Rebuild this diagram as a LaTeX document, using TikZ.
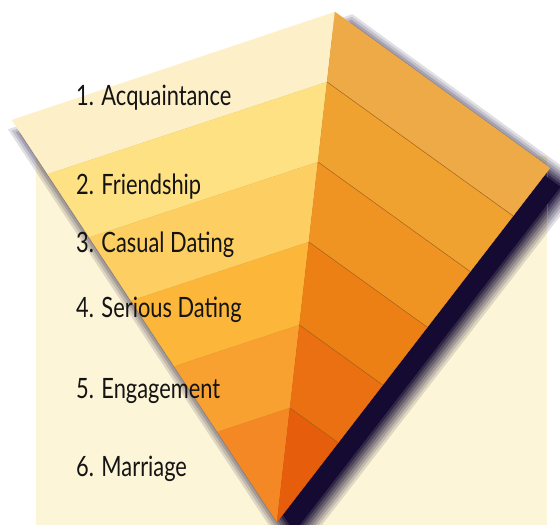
\documentclass[tikz,border=0pt]{standalone}
\usepackage{fontspec}
\setmainfont{Lato}[FakeStretch=0.78]
\usetikzlibrary{calc}
\definecolor{bgcream}{HTML}{FDF5D7}
\definecolor{navy}{HTML}{140A32}
\definecolor{edgeline}{HTML}{A0621A}
\definecolor{lc1}{HTML}{FDEFC7}
\definecolor{lc2}{HTML}{FEE182}
\definecolor{lc3}{HTML}{FDCE62}
\definecolor{lc4}{HTML}{FCB63A}
\definecolor{lc5}{HTML}{F8A130}
\definecolor{lc6}{HTML}{F38824}
\definecolor{rc1}{HTML}{EDAA46}
\definecolor{rc2}{HTML}{F0A230}
\definecolor{rc3}{HTML}{EF9423}
\definecolor{rc4}{HTML}{ED8015}
\definecolor{rc5}{HTML}{EA7012}
\definecolor{rc6}{HTML}{E65E0C}
\newcommand\shadowsteps[1]{%
  \fill[navy!13!#1] (7.9,129.3) -- (352.4,14.2) -- (585.5,183.3) -- (293.2,562.2) -- cycle;
  \fill[navy!25!#1] (11.75,130.7) -- (352.0,16.9) -- (581.9,183.8) -- (293.3,557.9) -- cycle;
  \fill[navy!38!#1] (15.6,132.0) -- (351.5,19.7) -- (578.4,184.3) -- (293.5,553.6) -- cycle;
  \fill[navy!50!#1] (19.5,133.35) -- (351.1,22.5) -- (574.8,184.9) -- (293.7,549.3) -- cycle;
  \fill[navy!63!#1] (23.4,134.7) -- (350.7,25.3) -- (571.3,185.4) -- (293.8,545.0) -- cycle;
  \fill[navy!75!#1] (27.25,136.0) -- (350.3,28.0) -- (567.7,185.9) -- (294.0,540.7) -- cycle;
  \fill[navy!88!#1] (31.1,137.4) -- (349.8,30.8) -- (564.2,186.4) -- (294.1,536.4) -- cycle;
}
\begin{document}
\begin{tikzpicture}[x=1pt,y=-1pt,
  lbl/.style={anchor=base west, inner sep=0pt, font=\fontsize{28}{30}\selectfont, text=black!92},
  sep/.style={draw=edgeline, line width=0.45pt}]
\useasboundingbox (0,0) rectangle (560,525);
\clip (0,0) rectangle (560,525);
% main corners
\coordinate (A) at (12,120);
\coordinate (B) at (335,12);
\coordinate (C) at (550,168);
\coordinate (T) at (277,522);
% shadow core corners
\coordinate (SA) at (35.0,138.7);
\coordinate (SB) at (349.4,33.6);
\coordinate (SC) at (560.6,186.9);
\coordinate (ST) at (294.3,532.1);
% blurred shadow on white
\shadowsteps{white}
% background panel
\fill[bgcream] (36,156) rectangle (547,525);
% blurred shadow on the cream panel
\begin{scope}
  \clip (36,156) rectangle (547,525);
  \shadowsteps{bgcream}
\end{scope}
\fill[navy] (SA) -- (SB) -- (SC) -- (ST) -- cycle;
% band points
\coordinate (L0) at (A);
\coordinate (D0) at (B);
\coordinate (R0) at (C);
\foreach \i/\yy in {1/82,2/162,3/242,4/325,5/408}{
  \pgfmathsetmacro\f{(\yy-12)/510}
  \coordinate (D\i) at ($(B)!\f!(T)$);
  \coordinate (Lh\i) at ($(D\i)+(-100,33)$);
  \coordinate (Rh\i) at ($(D\i)+(100,72)$);
  \coordinate (L\i) at (intersection of A--T and D\i--Lh\i);
  \coordinate (R\i) at (intersection of C--T and D\i--Rh\i);
}
\coordinate (L6) at (T);
\coordinate (D6) at (T);
\coordinate (R6) at (T);
% bands
\foreach \i in {1,...,6}{
  \pgfmathtruncatemacro\j{\i-1}
  \filldraw[fill=lc\i, draw=lc\i, line width=0.3pt, line join=round]
    (L\j) -- (D\j) -- (D\i) -- (L\i) -- cycle;
  \filldraw[fill=rc\i, draw=rc\i, line width=0.3pt, line join=round]
    (D\j) -- (R\j) -- (R\i) -- (D\i) -- cycle;
}
\foreach \i in {1,...,5}{
  \draw[sep] (D\i) -- (R\i);
}
% labels
\node[lbl] (t1) at (76,105) {1. Acquaintance};
\node[lbl] (t2) at (76,194) {2. Friendship};
\node[lbl] (t3) at (76,252) {3. Casual Dating};
\node[lbl] (t4) at (76,317) {4. Serious Dating};
\node[lbl] (t5) at (76,398) {5. Engagement};
\node[lbl] (t6) at (76,476) {6. Marriage};
\end{tikzpicture}
\end{document}
